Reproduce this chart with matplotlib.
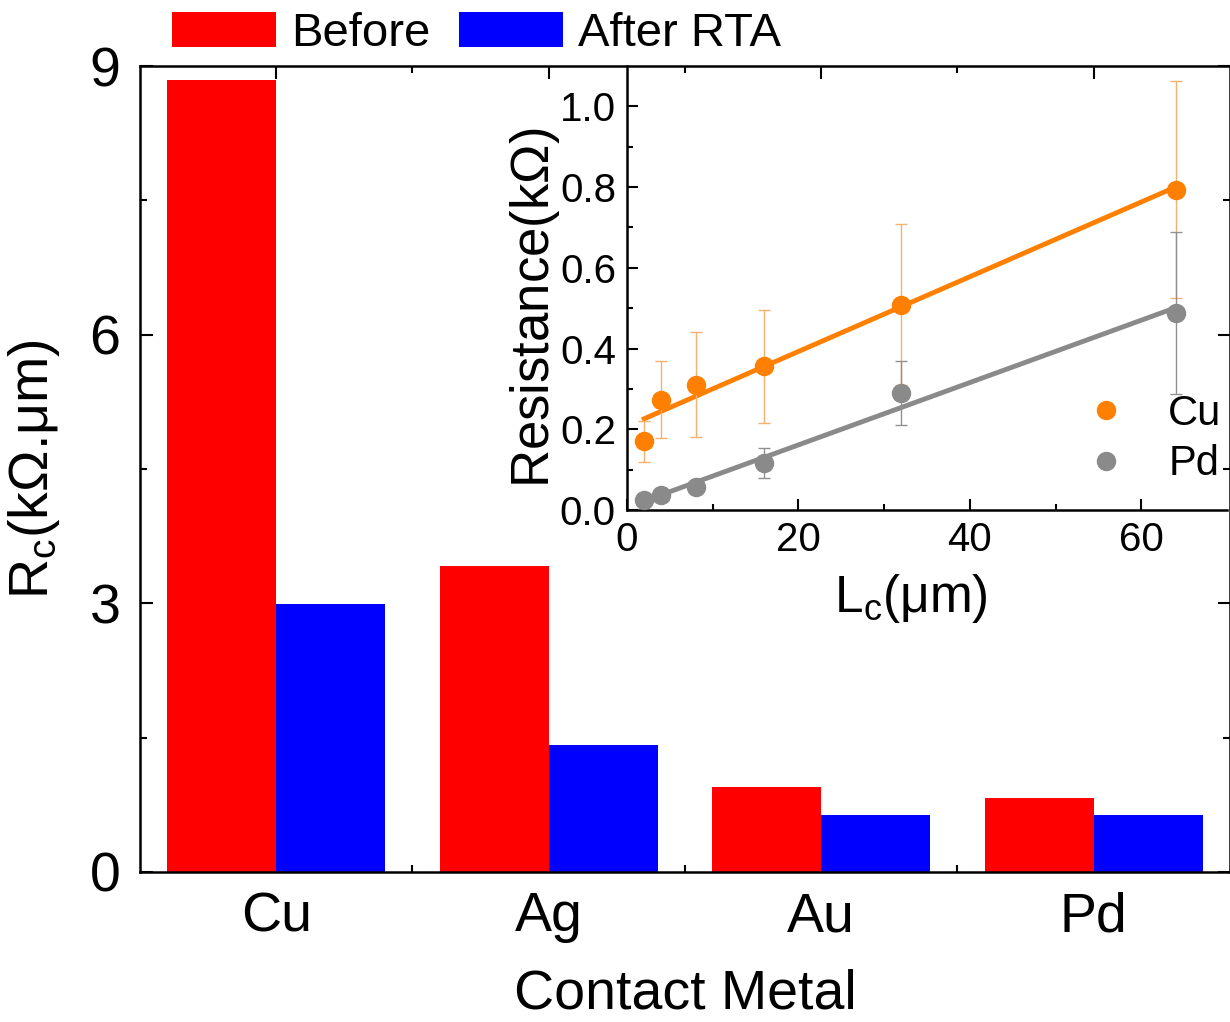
import numpy as np
import matplotlib
matplotlib.use("Agg")
import matplotlib.pyplot as plt
from matplotlib.lines import Line2D

plt.rcParams['font.family'] = ['Liberation Sans', 'DejaVu Sans']
plt.rcParams['mathtext.fontset'] = 'custom'
plt.rcParams['mathtext.rm'] = 'Liberation Sans'
plt.rcParams['mathtext.it'] = 'Liberation Sans'

# main bar data
metals = ['Cu', 'Ag', 'Au', 'Pd']
rc_before = [8.84, 3.42, 0.95, 0.83]
rc_after = [2.99, 1.42, 0.64, 0.64]

# inset data (TLM)
lc = [2, 4, 8, 16, 32, 64]
res_cu = [0.17, 0.273, 0.31, 0.356, 0.509, 0.794]
err_cu = [0.05, 0.095, 0.13, 0.14, 0.2, 0.27]
res_pd = [0.025, 0.037, 0.058, 0.116, 0.29, 0.488]
err_pd = [0.01, 0.01, 0.012, 0.037, 0.08, 0.2]

orange = '#FF8000'
grey = '#8A8A8A'

fig = plt.figure(figsize=(12.3, 10.22), dpi=100)
ax = fig.add_axes([0.1138, 0.1468, 0.8862, 0.7886])

x = np.arange(len(metals))
w = 0.4
ax.bar(x - w / 2, rc_before, w, color='#FF0000', label='Before')
ax.bar(x + w / 2, rc_after, w, color='#0000FF', label='After RTA')
# ticks below bars, so the bottom category ticks are hidden as in the original
ax.set_axisbelow(True)

ax.set_xlim(-0.5, 3.5)
ax.set_ylim(0, 9)
ax.set_yticks([0, 3, 6, 9])
ax.set_yticks([1.5, 4.5, 7.5], minor=True)
ax.set_xticks(x)
ax.set_xticks([0.5, 1.5, 2.5], minor=True)
ax.set_xticklabels(metals)
ax.tick_params(which='both', direction='in', top=True, right=True, width=1.5)
ax.tick_params(which='major', length=9, labelsize=40, pad=14)
ax.tick_params(which='minor', length=5)
for s in ax.spines.values():
    s.set_linewidth(1.8)
    s.set_zorder(3)
ax.set_xlabel('Contact Metal', fontsize=40, labelpad=18)
ax.set_ylabel(r'R$_\mathregular{c}$(k$\Omega$.$\mu$m)', fontsize=40, labelpad=20)

ax.legend(loc='lower left', bbox_to_anchor=(0.14, 0.945), bbox_transform=fig.transFigure,
          ncol=2, frameon=False, fontsize=34, handlelength=2.2, handleheight=0.77,
          handletextpad=0.32, columnspacing=0.6, borderpad=0, borderaxespad=0)

# inset
ins = fig.add_axes([0.5098, 0.501, 0.4878, 0.4344])
ins.patch.set_alpha(0)
ins.errorbar(lc, res_cu, yerr=err_cu, fmt='o', color=orange, ecolor='#F5B070',
             elinewidth=1, capsize=4, markersize=13, markeredgecolor=orange, zorder=3)
ins.errorbar(lc, res_pd, yerr=err_pd, fmt='o', color=grey, ecolor='#909090',
             elinewidth=1, capsize=4, markersize=13, markeredgecolor=grey, zorder=3)
xf = np.array([lc[0], lc[-1]])
p_cu = np.polyfit(lc, res_cu, 1)
p_pd = np.polyfit(lc, res_pd, 1)
ins.plot(xf, np.polyval(p_cu, xf), color=orange, lw=3.5, zorder=2)
ins.plot(xf, np.polyval(p_pd, xf), color=grey, lw=3.5, zorder=2)

ins.set_xlim(0, 70)
ins.set_ylim(0, 1.1)
ins.set_xticks([0, 20, 40, 60])
ins.set_xticks([10, 30, 50], minor=True)
ins.set_yticks([0, 0.2, 0.4, 0.6, 0.8, 1.0])
ins.set_yticks([0.1, 0.3, 0.5, 0.7, 0.9], minor=True)
ins.set_yticklabels(['0.0', '0.2', '0.4', '0.6', '0.8', '1.0'])
ins.tick_params(which='both', direction='in', width=1.5)
ins.tick_params(which='major', length=8, labelsize=29, pad=8)
ins.tick_params(which='minor', length=4)
ins.spines['top'].set_visible(False)
ins.spines['right'].set_visible(False)
for s in ['left', 'bottom']:
    ins.spines[s].set_linewidth(1.8)
ins.set_xlabel(r'L$_\mathregular{c}$($\mu$m)', fontsize=37)
ins.xaxis.set_label_coords(0.473, -0.14)
ins.set_ylabel(r'Resistance(k$\Omega$)', fontsize=38, va='center')
ins.yaxis.set_label_coords(-0.153, 0.456)

handles = [Line2D([], [], ls='none', marker='o', markersize=13, color=orange),
           Line2D([], [], ls='none', marker='o', markersize=13, color=grey)]
ins.legend(handles, ['Cu', 'Pd'], loc='lower left', bbox_to_anchor=(0.763, 0.058),
           frameon=False, fontsize=30, handlelength=1.0, handletextpad=1.0,
           labelspacing=0.25, borderpad=0, borderaxespad=0)

fig.savefig('out.png', dpi=100)
